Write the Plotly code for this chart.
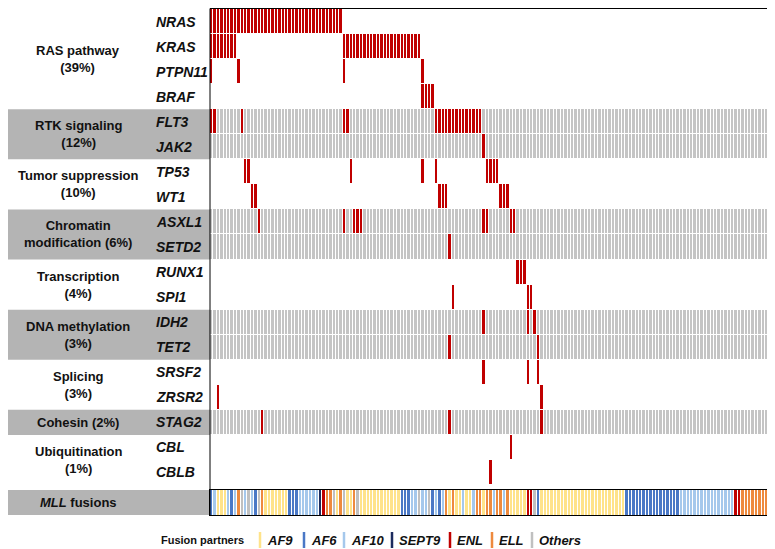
import plotly.graph_objects as go

# ---------------- data ----------------
N_SAMPLES = 168
genes = ["NRAS", "KRAS", "PTPN11", "BRAF", "FLT3", "JAK2", "TP53", "WT1",
         "ASXL1", "SETD2", "RUNX1", "SPI1", "IDH2", "TET2", "SRSF2", "ZRSR2",
         "STAG2", "CBL", "CBLB"]

# mutated sample indices (columns) per gene
NRAS = list(range(0, 39))
KRAS = list(range(0, 8)) + list(range(39, 62))
PTPN11 = [0, 8, 39, 62]
BRAF = [62, 63, 64, 65]
FLT3 = [0, 1, 9, 39, 40] + list(range(66, 80))
JAK2 = [80]
TP53 = [10, 11, 41, 62, 66, 81, 82, 83, 84]
WT1 = [12, 13, 67, 68, 69, 85, 86, 87]
ASXL1 = [14, 39, 42, 43, 44, 80, 81, 88, 89]
SETD2 = [70]
RUNX1 = [90, 91, 92]
SPI1 = [71, 93, 94]
IDH2 = [80, 93, 95]
TET2 = [70, 96]
SRSF2 = [80, 93, 96]
ZRSR2 = [2, 97]
STAG2 = [15, 70, 97]
CBL = [88]
CBLB = [82]
mutations = [NRAS, KRAS, PTPN11, BRAF, FLT3, JAK2, TP53, WT1, ASXL1, SETD2,
             RUNX1, SPI1, IDH2, TET2, SRSF2, ZRSR2, STAG2, CBL, CBLB]

group_labels = ["RAS pathway<br>(39%)", "RTK signaling<br>(12%)",
                "Tumor suppression<br>(10%)", "Chromatin<br>modification (6%)",
                "Transcription<br>(4%)", "DNA methylation<br>(3%)",
                "Splicing<br>(3%)", "Cohesin (2%)", "Ubiquitination<br>(1%)"]
group_first = [0, 4, 6, 8, 10, 12, 14, 16, 17]
group_last = [3, 5, 7, 9, 11, 13, 15, 16, 18]
group_shaded = [False, True, False, True, False, True, False, True, False]

partner_names = ["AF9", "AF6", "AF10", "SEPT9", "ENL", "ELL", "Others"]
partner_colors = ["#FFE38A", "#4A78C6", "#A5C8EC", "#1C2B5E", "#C00000", "#EE8A3E", "#C0C0C0"]
# fusion partner code per sample (Y=AF9,B=AF6,L=AF10,S=SEPT9,E=ENL,O=ELL,G=Others)
fusion_codes = ("BLYYYLBLOGLGLBGO" "YYYYYYY" "BBB" "LLLLLL" "S" "EO" "OGYOGYYOGY"
                "YYYYYYYYYYY" "BBBL" "LGLLG" "BLBL" "OYO" "YYLYYL" "OOYOOLO" "OLO"
                "YYYYY" "EE" "GB" "Y"
                + "Y" * 24 + "B" * 16 + "L" * 16 + "E" * 2 + "O" * 9 + "G" * 3)
code_order = "YBLSEOG"

# ---------------- figure ----------------
W, H = 775, 549
L, R = 202, 1


def px_x(p):
    return (p - L) / (W - L - R)


def px_y(p):
    return 1 - p / H


RED = "#C00000"
CELL_GREY = "#C4C4C4"
BAND_GREY = "#B4B4B4"

zrows = []
for gi, g in enumerate(genes):
    shaded = False
    for k in range(len(group_labels)):
        if group_first[k] <= gi <= group_last[k]:
            shaded = group_shaded[k]
    base = 1 if shaded else 0
    row = [base] * N_SAMPLES
    for c in mutations[gi]:
        row[c] = 2
    zrows.append(row)

fig = go.Figure()
fig.add_trace(go.Heatmap(
    z=zrows, x=list(range(N_SAMPLES)), y=list(range(len(genes))),
    zmin=0, zmax=2,
    colorscale=[[0, "#FFFFFF"], [0.25, "#FFFFFF"], [0.25, CELL_GREY], [0.75, CELL_GREY],
                [0.75, RED], [1, RED]],
    xgap=1, ygap=1, showscale=False, hoverinfo="skip",
    xaxis="x", yaxis="y"))

fz = [code_order.index(c) for c in fusion_codes]
cs = []
n = len(partner_colors)
for i, col in enumerate(partner_colors):
    cs.append([i / n, col])
    cs.append([(i + 1) / n, col])
fig.add_trace(go.Heatmap(
    z=[fz], x=list(range(N_SAMPLES)), y=[0], zmin=-0.5, zmax=n - 0.5,
    colorscale=cs, xgap=1, showscale=False, hoverinfo="skip",
    xaxis="x2", yaxis="y2"))

shapes = []
annotations = []
# left grey bands
for k in range(len(group_labels)):
    if group_shaded[k]:
        shapes.append(dict(type="rect", xref="paper", yref="y", layer="below",
                           x0=px_x(0), x1=0, y0=group_first[k] - 0.5, y1=group_last[k] + 0.5,
                           fillcolor=BAND_GREY, line=dict(width=0)))
    annotations.append(dict(xref="paper", yref="y", x=px_x(70), y=(group_first[k] + group_last[k]) / 2,
                            text="<b>" + group_labels[k] + "</b>", showarrow=False,
                            xanchor="center", yanchor="middle",
                            font=dict(size=13, color="#111111")))
for gi, g in enumerate(genes):
    annotations.append(dict(xref="paper", yref="y", x=px_x(146), y=gi,
                            text="<b><i>" + g + "</i></b>", showarrow=False,
                            xanchor="left", yanchor="middle",
                            font=dict(size=14, color="#111111")))
# MLL band
shapes.append(dict(type="rect", xref="paper", yref="y2", layer="below",
                   x0=px_x(0), x1=0, y0=-0.5, y1=0.5,
                   fillcolor=BAND_GREY, line=dict(width=0)))
annotations.append(dict(xref="paper", yref="y2", x=px_x(70), y=0,
                        text="<b><i>MLL</i> fusions</b>", showarrow=False,
                        xanchor="center", yanchor="middle",
                        font=dict(size=13, color="#111111")))

# outer frame side lines (left / right) running down to the fusion row
for xe in (0, 0.9995):
    shapes.append(dict(type="line", xref="paper", yref="paper", x0=xe, x1=xe,
                       y0=px_y(507), y1=px_y(0.5), line=dict(color="#000000", width=1)))

# legend
leg_y = 532
annotations.append(dict(xref="paper", yref="paper", x=px_x(238), y=px_y(leg_y),
                        text="<b>Fusion partners</b>", showarrow=False,
                        xanchor="right", yanchor="middle",
                        font=dict(size=11, color="#111111")))
leg_x = [252, 296, 336, 384, 442, 484, 524]
for i, name in enumerate(partner_names):
    shapes.append(dict(type="line", xref="paper", yref="paper",
                       x0=px_x(leg_x[i]), x1=px_x(leg_x[i]),
                       y0=px_y(leg_y - 8), y1=px_y(leg_y + 8),
                       line=dict(color=partner_colors[i], width=2.5)))
    annotations.append(dict(xref="paper", yref="paper", x=px_x(leg_x[i] + 5), y=px_y(leg_y),
                            text="<b><i>" + name + "</i></b>", showarrow=False,
                            xanchor="left", yanchor="middle",
                            font=dict(size=13, color="#111111")))

axis_common = dict(showgrid=False, zeroline=False, showticklabels=False, ticks="",
                   linecolor="#000000", linewidth=1)
fig.update_layout(
    width=W, height=H, autosize=False,
    margin=dict(l=L, r=R, t=0, b=0, pad=0),
    paper_bgcolor="white", plot_bgcolor="white",
    font=dict(family="Liberation Sans, Arial, sans-serif"),
    xaxis=dict(domain=[0, 1], range=[-0.5, N_SAMPLES - 0.5], anchor="y", side="top",
               showline=True, mirror=False, **axis_common),
    yaxis=dict(domain=[px_y(477), px_y(1)], range=[len(genes) - 0.5, -0.5], anchor="x",
               showline=False, **axis_common),
    xaxis2=dict(domain=[0, 1], range=[-0.5, N_SAMPLES - 0.5], anchor="y2", matches="x",
                showline=True, mirror=True, **axis_common),
    yaxis2=dict(domain=[px_y(507), px_y(482)], range=[-0.5, 0.5], anchor="x2",
                showline=True, mirror=True, **axis_common),
    shapes=shapes, annotations=annotations, showlegend=False,
)

fig.write_html("out.html")
